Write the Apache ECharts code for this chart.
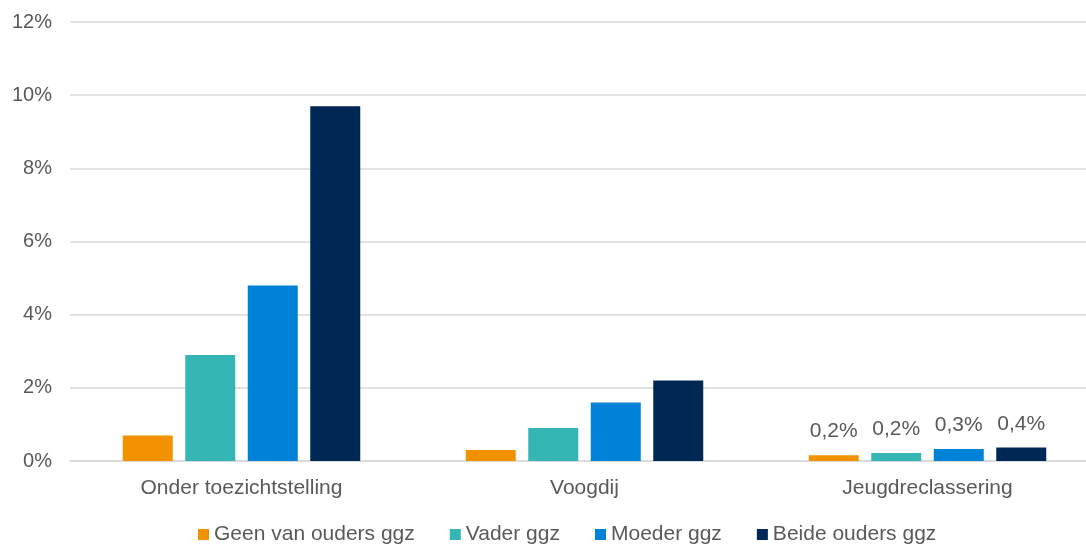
<!DOCTYPE html>
<html><head><meta charset="utf-8">
<script src="https://cdn.jsdelivr.net/npm/echarts@6/dist/echarts.min.js"></script>
<style>html,body{margin:0;padding:0;background:#fff}#c{width:1086px;height:545px}</style>
</head><body><div id="c"></div>
<script>
const categories = ['Onder toezichtstelling', 'Voogdij', 'Jeugdreclassering'];
const seriesNames = ['Geen van ouders ggz', 'Vader ggz', 'Moeder ggz', 'Beide ouders ggz'];
const geenVanOuders = [0.7, 0.3, 0.16];
const vaderGgz = [2.9, 0.9, 0.22];
const moederGgz = [4.8, 1.6, 0.33];
const beideOuders = [9.7, 2.2, 0.37];
const yTicks = [0, 2, 4, 6, 8, 10, 12];
const colors = ['#F39200', '#35B6B4', '#0082D9', '#002855'];
const values = [geenVanOuders, vaderGgz, moederGgz, beideOuders];

const font = 'Liberation Sans, Arial, sans-serif';
const txt = '#595959';
const chart = echarts.init(document.getElementById('c'));
chart.setOption({
  animation: false,
  grid: { left: 70, right: -13, top: 22, bottom: 84, outerBoundsMode: 'none', containLabel: false },
  legend: {
    top: 519, left: 193, itemWidth: 11, itemHeight: 11, itemGap: 35,
    icon: 'rect',
    textStyle: { fontFamily: font, fontSize: 21, color: txt },
    data: seriesNames
  },
  xAxis: {
    type: 'category', data: categories,
    axisLine: { lineStyle: { color: '#d9d9d9', width: 1.5 } },
    axisTick: { show: false },
    axisLabel: { fontFamily: font, fontSize: 21, color: txt, margin: 17 }
  },
  yAxis: {
    type: 'value', min: 0, max: yTicks[yTicks.length - 1], interval: 2,
    axisLabel: { fontFamily: font, fontSize: 20, color: txt, margin: 18, formatter: v => v + '%' },
    splitLine: { lineStyle: { color: '#d9d9d9', width: 1.5 } },
    axisLine: { show: false }, axisTick: { show: false }
  },
  series: seriesNames.map((n, i) => ({
    name: n, type: 'bar', barWidth: 50, barGap: '25%',
    itemStyle: { color: colors[i] },
    data: values[i].map((v, j) => j === 2 ? {
      value: v,
      label: { show: true, position: 'top', distance: 13, fontFamily: font, fontSize: 21, color: txt,
        formatter: p => (Math.round(p.value * 10) / 10).toFixed(1).replace('.', ',') + '%' }
    } : v)
  }))
});
</script></body></html>
